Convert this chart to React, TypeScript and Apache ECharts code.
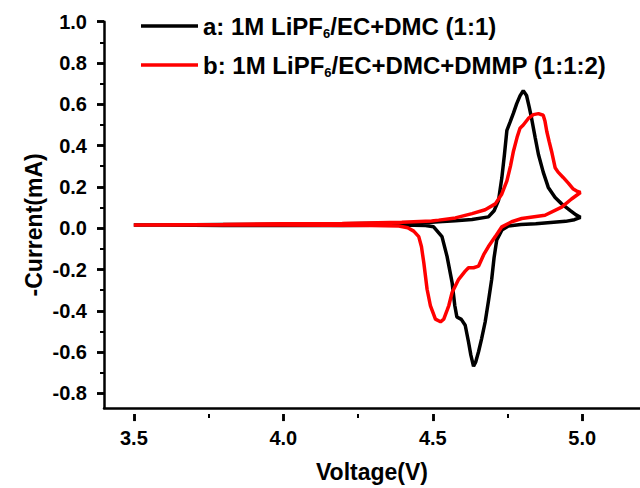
import React, { useEffect, useRef } from "react";
import * as echarts from "echarts";

// ---- Data ----
const seriesNames = ["a: 1M LiPF6/EC+DMC (1:1)", "b: 1M LiPF6/EC+DMC+DMMP (1:1:2)"];

// Curve a (black): forward sweep 3.5 -> 5.0 V, then reverse 5.0 -> 3.5 V
const blackV = [
  3.5, 3.6, 3.8, 4.0, 4.2, 4.4, 4.5, 4.524, 4.58, 4.636, 4.691, 4.71, 4.725, 4.736, 4.745, 4.753,
  4.764, 4.775, 4.786, 4.797, 4.808, 4.819, 4.828, 4.836, 4.848, 4.859, 4.875, 4.892, 4.915,
  4.937, 4.965, 4.985, 5.0,
  4.98, 4.95, 4.9, 4.85, 4.8, 4.758, 4.736, 4.719, 4.71, 4.702, 4.691, 4.68, 4.668, 4.658,
  4.648, 4.641, 4.632, 4.624, 4.613, 4.6, 4.585, 4.578, 4.569, 4.552, 4.535, 4.507, 4.48,
  4.4, 4.2, 4.0, 3.8, 3.6, 3.5,
];
const blackI = [
  0.0, 0.0, 0.002, 0.004, 0.006, 0.01, 0.014, 0.016, 0.021, 0.027, 0.04, 0.07, 0.122, 0.232, 0.35, 0.466,
  0.507, 0.55, 0.597, 0.635, 0.661, 0.637, 0.58, 0.524, 0.43, 0.347, 0.26, 0.185, 0.135,
  0.104, 0.072, 0.05, 0.038,
  0.026, 0.018, 0.012, 0.006, 0.002, -0.005, -0.025, -0.073, -0.16, -0.267, -0.375, -0.477, -0.56, -0.622,
  -0.675, -0.695, -0.64, -0.574, -0.493, -0.464, -0.452, -0.396, -0.283, -0.154, -0.057, -0.009, -0.002,
  0.0, -0.002, -0.002, -0.002, 0.0, 0.0,
];

// Curve b (red)
const redV = [
  3.5, 3.8, 4.0, 4.2, 4.4, 4.5, 4.524, 4.58, 4.636, 4.68, 4.714, 4.735, 4.753, 4.765, 4.775, 4.787,
  4.797, 4.808, 4.825, 4.842, 4.859, 4.875, 4.881, 4.887, 4.895, 4.903, 4.915, 4.925, 4.942,
  4.96, 4.976, 4.99, 5.0,
  4.97, 4.937, 4.881, 4.803, 4.769, 4.736, 4.714, 4.691, 4.675, 4.658, 4.641, 4.624, 4.613,
  4.591, 4.569, 4.558, 4.552, 4.541, 4.53, 4.513, 4.496, 4.485, 4.474, 4.466, 4.457, 4.44,
  4.42, 4.39, 4.3, 4.0, 3.5,
];
const redI = [
  0.0, 0.003, 0.006, 0.008, 0.013, 0.02, 0.024, 0.035, 0.056, 0.075, 0.104, 0.15, 0.217, 0.29, 0.363, 0.43,
  0.476, 0.492, 0.524, 0.543, 0.548, 0.54, 0.51, 0.46, 0.41, 0.363, 0.282, 0.26, 0.234,
  0.205, 0.177, 0.165, 0.16,
  0.128, 0.088, 0.048, 0.032, 0.016, -0.009, -0.057, -0.106, -0.146, -0.202, -0.21, -0.21, -0.227,
  -0.267, -0.332, -0.396, -0.42, -0.463, -0.476, -0.463, -0.396, -0.316, -0.186, -0.106, -0.057, -0.03,
  -0.013, -0.005, -0.002, 0.0, 0.0,
];

const xMin = 3.4;
const xMax = 5.2;
const yMin = -0.9;
const yMax = 1.0;
const xTickMin = 3.5;
const xTickMax = 5.0;
const xTickStep = 0.5;
const yTickMin = -0.8;
const yTickMax = 1.0;
const yTickStep = 0.2;

const FONT = '"Liberation Sans", Arial, Helvetica, sans-serif';

export default function App() {
  const ref = useRef<HTMLDivElement>(null);

  useEffect(() => {
    if (!ref.current) return;
    const chart = echarts.init(ref.current, null, { renderer: "svg" });

    // layout
    const gLeft = 104;
    const gTop = 21.7;
    const pxPerV = 298.9;
    const pxPerMA = 206.5;
    const majorLen = 7;
    const gWidth = (xMax - xMin) * pxPerV;
    const gHeight = (yMax - yMin) * pxPerMA;
    const g2Left = gLeft + (xTickMin - xMin) * pxPerV;
    const g2Width = (xTickMax - xTickMin) * pxPerV;
    const g2Top = gTop + (yMax - yTickMax) * pxPerMA;
    const g2Height = (yTickMax - yTickMin) * pxPerMA;
    const bottomY = gTop + gHeight;
    const g2Bottom = g2Top + g2Height;

    const axisLineStyle = { color: "#000", width: 2.5 };
    const tickLabel = {
      color: "#000",
      fontFamily: FONT,
      fontWeight: "bold" as const,
      fontSize: 20,
      formatter: (v: number) => v.toFixed(1),
    };
    const hiddenAxis = (gridIndex: number) => ({ gridIndex, type: "value", show: false, min: 0, max: 1 });
    const majorStripAxis = {
      axisLine: { show: false, onZero: false },
      axisTick: { show: false },
      axisLabel: { show: false },
      splitLine: { show: true, lineStyle: { color: "#000", width: 2.5, type: "solid" } },
    };

    const richFmt = (name: string) => {
      const i = name.indexOf("LiPF6");
      const pre = name.slice(0, i + 4);
      const post = name.slice(i + 5);
      return `{t|${pre}}{s|6}{t|${post}}`;
    };

    chart.setOption({
      animation: false,
      backgroundColor: "#fff",
      legend: {
        orient: "vertical",
        left: 136,
        top: 9,
        icon: "rect",
        itemWidth: 57,
        itemHeight: 3.5,
        itemGap: 13,
        data: seriesNames,
        formatter: richFmt,
        textStyle: {
          rich: {
            t: { fontFamily: FONT, fontWeight: "bold", fontSize: 24, color: "#000", lineHeight: 28 },
            s: { fontFamily: FONT, fontWeight: "bold", fontSize: 13, color: "#000", lineHeight: 11, verticalAlign: "bottom" },
          },
        },
      },
      grid: [
        // 0: data area
        { left: gLeft, top: gTop, width: gWidth, height: gHeight },
        // 1: labelled tick range (labels + minor ticks)
        { left: g2Left, top: g2Top, width: g2Width, height: g2Height },
        // 2: strip below the x axis holding the major x ticks
        { left: g2Left, top: bottomY, width: g2Width, height: majorLen },
        // 3: strip left of the y axis holding the major y ticks
        { left: gLeft - majorLen, top: g2Top, width: majorLen, height: g2Height },
      ],
      xAxis: [
        {
          gridIndex: 0,
          type: "value",
          min: xMin,
          max: xMax,
          axisLine: { show: true, onZero: false, lineStyle: axisLineStyle },
          axisTick: { show: false },
          axisLabel: { show: false },
          splitLine: { show: false },
          name: "Voltage(V)",
          nameLocation: "middle",
          nameGap: 52,
          nameTextStyle: { color: "#000", fontFamily: FONT, fontWeight: "bold", fontSize: 23 },
        },
        {
          gridIndex: 1,
          type: "value",
          min: xTickMin,
          max: xTickMax,
          interval: xTickStep,
          offset: bottomY - g2Bottom,
          axisLine: { show: false, onZero: false },
          axisTick: { show: true, inside: false, length: majorLen, lineStyle: { color: "#000", width: 2.5 } },
          minorTick: { show: true, splitNumber: 2, length: 4, lineStyle: { color: "#000", width: 2 } },
          axisLabel: { ...tickLabel, margin: 14 },
          splitLine: { show: false },
          minorSplitLine: { show: false },
        },
        {
          gridIndex: 2,
          type: "value",
          min: xTickMin,
          max: xTickMax,
          interval: xTickStep,
          ...majorStripAxis,
        },
        hiddenAxis(3),
      ],
      yAxis: [
        {
          gridIndex: 0,
          type: "value",
          min: yMin,
          max: yMax,
          axisLine: { show: true, onZero: false, lineStyle: axisLineStyle },
          axisTick: { show: false },
          axisLabel: { show: false },
          splitLine: { show: false },
          name: "-Current(mA)",
          nameLocation: "middle",
          nameGap: 59,
          nameTextStyle: {
            color: "#000",
            fontFamily: FONT,
            fontWeight: "bold",
            fontSize: 23,
            padding: [0, 20, 0, 0],
          },
        },
        {
          gridIndex: 1,
          type: "value",
          min: yTickMin,
          max: yTickMax,
          interval: yTickStep,
          offset: g2Left - gLeft,
          axisLine: { show: false, onZero: false },
          axisTick: { show: true, inside: false, length: majorLen, lineStyle: { color: "#000", width: 2.5 } },
          minorTick: { show: true, splitNumber: 2, length: 4, lineStyle: { color: "#000", width: 2 } },
          axisLabel: { ...tickLabel, margin: 17 },
          splitLine: { show: false },
          minorSplitLine: { show: false },
        },
        hiddenAxis(2),
        {
          gridIndex: 3,
          type: "value",
          min: yTickMin,
          max: yTickMax,
          interval: yTickStep,
          ...majorStripAxis,
        },
      ],
      series: [
        {
          name: seriesNames[0],
          type: "line",
          xAxisIndex: 0,
          yAxisIndex: 0,
          symbol: "none",
          smooth: false,
          lineStyle: { color: "#000000", width: 3.5 },
          itemStyle: { color: "#000000" },
          data: blackV.map((v, i) => [v, blackI[i]]),
        },
        {
          name: seriesNames[1],
          type: "line",
          xAxisIndex: 0,
          yAxisIndex: 0,
          symbol: "none",
          smooth: false,
          lineStyle: { color: "#ff0000", width: 3.5 },
          itemStyle: { color: "#ff0000" },
          data: redV.map((v, i) => [v, redI[i]]),
        },
      ],
    });

    return () => chart.dispose();
  }, []);

  return (
    <div
      ref={ref}
      style={{ position: "fixed", left: 0, top: 0, width: 640, height: 488, background: "#fff" }}
    />
  );
}
